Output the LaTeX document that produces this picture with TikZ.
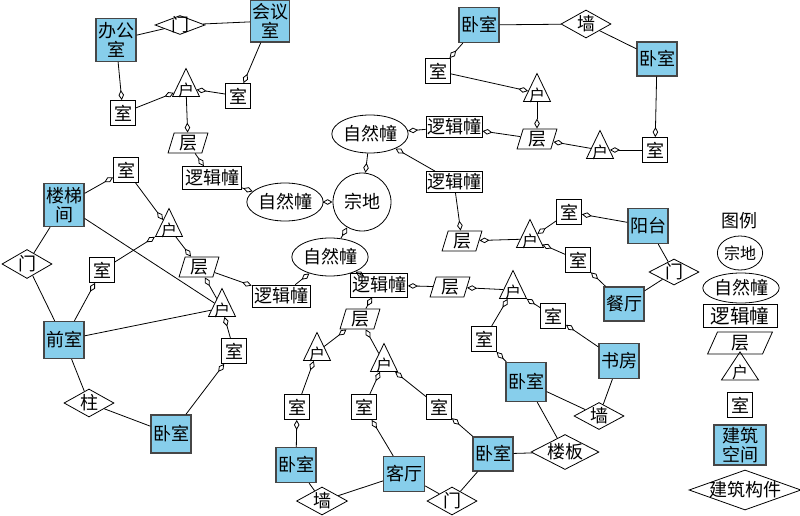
\documentclass[tikz,border=0pt]{standalone}
\usepackage{fontspec}
\setmainfont{Noto Sans CJK SC}
\usetikzlibrary{shapes.geometric,arrows.meta}
\definecolor{skyb}{RGB}{135,206,235}
\definecolor{edgeg}{RGB}{70,70,70}
\begin{document}
\begin{tikzpicture}[x=1pt,y=-1pt,
  every node/.style={font=\fontsize{18}{19.5}\selectfont, inner sep=0pt, line width=0.8pt},
  rm/.style={draw, minimum width=25pt, minimum height=25pt},
  sp/.style={draw=edgeg, line width=1.3pt, fill=skyb, minimum width=40pt, minimum height=35pt, align=center},
  comp/.style={diamond, draw, minimum width=50pt, minimum height=28pt, label={center:#1}},
  layer/.style={trapezium, trapezium left angle=76, trapezium right angle=104, trapezium stretches=true, draw, minimum width=40pt, minimum height=20pt},
  tri/.style={isosceles triangle, isosceles triangle apex angle=52, isosceles triangle stretches, shape border rotate=90, draw, minimum width=27pt, minimum height=28pt, label={[font=\fontsize{16}{16}\selectfont, yshift=-2pt]center:户}},
  nat/.style={ellipse, draw, minimum width=57pt, minimum height=38pt},
  lg/.style={rm, minimum width=57pt, minimum height=23pt},
  agg/.style={line width=0.8pt, -{Diamond[open,length=10pt,width=5.5pt,line width=0.8pt]}},
  ln/.style={line width=0.8pt}
]
\useasboundingbox (0,0) rectangle (800,516);
% ---------- top-left cluster
\node[sp, minimum height=43pt] (bgs) at (116,40) {办公\\室};
\node[comp=门, minimum height=19pt] (m1) at (180,25) {};
\node[sp, minimum width=39pt, minimum height=42pt] (hys) at (270,21) {会议\\室};
\node[rm] (s1) at (123,113) {室};
\node[tri] (h1) at (186,88) {};
\node[rm] (s2) at (238,96) {室};
\node[layer] (c1) at (188,143) {层};
\node[lg, minimum width=59pt] (l1) at (212,178) {逻辑幢};
\node[nat] (z1) at (285,202) {自然幢};
\node[circle, draw, minimum size=58pt] (zd) at (362,202) {宗地};
% ---------- top-right cluster
\node[sp] (w1) at (479,25) {卧室};
\node[comp=墙] (q1) at (586,24) {};
\node[sp, minimum height=34pt] (w2) at (657,59) {卧室};
\node[rm] (s3) at (438,71) {室};
\node[tri] (h2) at (537,93) {};
\node[nat] (z2) at (370,134) {自然幢};
\node[lg, minimum width=56pt, minimum height=21pt] (l2) at (454,127) {逻辑幢};
\node[layer] (c2) at (537,139) {层};
\node[tri] (h3) at (600,150) {};
\node[rm] (s4) at (655,150) {室};
\node[lg, minimum width=56pt, minimum height=21pt] (l3) at (454,182) {逻辑幢};
% ---------- middle-right cluster
\node[layer] (c3) at (462,241) {层};
\node[tri] (h4) at (530,239) {};
\node[rm] (s5) at (569,212) {室};
\node[rm] (s6) at (578,260) {室};
\node[sp] (yt) at (648,226) {阳台};
\node[sp, minimum height=34pt] (ct) at (624,304) {餐厅};
\node[comp=门, minimum height=26pt] (m2) at (674,272) {};
% ---------- centre cluster
\node[nat, minimum width=55pt] (z3) at (330,257) {自然幢};
\node[lg, minimum height=24pt] (l4) at (379,285) {逻辑幢};
\node[lg, minimum width=58pt, minimum height=22pt] (l5) at (281,296) {逻辑幢};
\node[layer] (c4) at (450,287) {层};
\node[tri] (h5) at (513,290) {};
\node[rm] (s7) at (484,339) {室};
\node[rm] (s8) at (553,316) {室};
\node[sp] (sf) at (619,361) {书房};
\node[sp, minimum height=39pt] (w3) at (526,382) {卧室};
\node[comp=墙, minimum height=27pt] (q2) at (599,416) {};
\node[comp=楼板, minimum width=68pt, minimum height=35pt] (lb) at (565,452) {};
\node[sp, minimum height=34pt] (w4) at (493,454) {卧室};
\node[comp=门] (m3) at (452,501) {};
\node[sp, minimum width=41pt] (kt) at (404,474) {客厅};
\node[rm] (s9) at (439,407) {室};
\node[layer] (c5) at (360,319) {层};
\node[tri] (h6) at (317,352) {};
\node[tri] (h7) at (384,363) {};
\node[rm] (s10) at (297,407) {室};
\node[rm] (s11) at (364,407) {室};
\node[sp] (w5) at (296,465) {卧室};
\node[comp=墙, minimum width=51pt] (q3) at (322,501) {};
% ---------- left cluster
\node[sp, minimum height=43pt] (ltj) at (64,205) {楼梯\\间};
\node[rm] (s12) at (126,170) {室};
\node[tri] (h8) at (169,228) {};
\node[rm] (s13) at (102,270) {室};
\node[comp=门, minimum height=29pt] (m4) at (27,264) {};
\node[layer] (c6) at (199,267) {层};
\node[tri] (h9) at (222,308) {};
\node[sp, minimum height=37pt] (qs) at (64,340) {前室};
\node[rm] (s14) at (234,351) {室};
\node[comp=柱] (zz) at (89,403) {};
\node[sp, minimum height=38pt] (w6) at (171,434) {卧室};
% ---------- legend
\node (lg0) at (739,221) {图例};
\node[ellipse, draw, minimum width=40pt, minimum height=34pt, font=\fontsize{16}{16}\selectfont] (lg1) at (740,253) {宗地};
\node[nat, minimum width=64pt, minimum height=30pt] (lg2) at (741,288) {自然幢};
\node[lg, minimum width=74pt, font=\fontsize{19.5}{19.5}\selectfont] (lg3) at (740,316) {逻辑幢};
\node[layer, minimum width=65pt, minimum height=22pt] (lg4) at (740,343) {层};
\node[tri, minimum width=37pt] (lg5) at (740,370) {};
\node[rm] (lg6) at (740,405) {室};
\node[sp, minimum width=52pt, minimum height=40pt] (lg7) at (740,445) {建筑\\空间};
\node[comp=建筑构件, minimum width=112pt, minimum height=40pt] (lg8) at (745,490) {};
% ---------- connectors: top-left
\draw[ln] (bgs) -- (m1);
\draw[ln] (m1) -- (hys);
\draw[agg] (bgs) -- (s1);
\draw[agg] (hys) -- (s2);
\draw[agg] (s1) -- (h1);
\draw[agg] (s2) -- (h1);
\draw[agg] (h1) -- (c1);
\draw[agg] (c1) -- (l1);
\draw[agg] (l1) -- (z1);
\draw[agg] (z1) -- (zd);
% top-right
\draw[ln] (w1) -- (q1);
\draw[ln] (q1) -- (w2);
\draw[agg] (w1) -- (s3);
\draw[agg] (s3) -- (h2);
\draw[agg] (h2) -- (c2);
\draw[agg] (c2) -- (l2);
\draw[agg] (l2) -- (z2);
\draw[agg] (h3) -- (c2);
\draw[agg] (s4) -- (h3);
\draw[agg] (w2) -- (s4);
\draw[agg] (z2) -- (zd);
\draw[agg] (l3) -- (z2);
% middle-right
\draw[agg] (l3) -- (c3);
\draw[agg] (h4) -- (c3);
\draw[agg] (s5) -- (h4);
\draw[agg] (s6) -- (h4);
\draw[agg] (yt) -- (s5);
\draw[agg] (ct) -- (s6);
\draw[ln] (yt) -- (m2);
\draw[ln] (m2) -- (ct);
% centre
\draw[agg] (z3) -- (zd);
\draw[agg] (l4) -- (z3);
\draw[agg] (l5) -- (z3);
\draw[agg] (c4) -- (l4);
\draw[agg] (h5) -- (c4);
\draw[agg] (s7) -- (h5);
\draw[agg] (s8) -- (h5);
\draw[agg] (sf) -- (s8);
\draw[agg] (w3) -- (s7);
\draw[ln] (sf) -- (q2);
\draw[ln] (w3) -- (q2);
\draw[ln] (w3) -- (lb);
\draw[ln] (w4) -- (lb);
\draw[ln] (w4) -- (m3);
\draw[ln] (kt) -- (m3);
\draw[agg] (w4) -- (s9);
\draw[agg] (c5) -- (l4);
\draw[agg] (h6) -- (c5);
\draw[agg] (h7) -- (c5);
\draw[agg] (s10) -- (h6);
\draw[agg] (s11) -- (h7);
\draw[agg] (s9) -- (h7);
\draw[agg] (w5) -- (s10);
\draw[agg] (kt) -- (s11);
\draw[ln] (w5) -- (q3);
\draw[ln] (q3) -- (kt);
% left
\draw[agg] (ltj) -- (s12);
\draw[agg] (s12) -- (h8);
\draw[agg] (s13) -- (h8);
\draw[agg] (h8) -- (c6);
\draw[agg] (c6) -- (l5);
\draw[agg] (h9) -- (c6);
\draw[ln] (ltj) -- (h9);
\draw[ln] (qs) -- (h9);
\draw[ln] (ltj) -- (m4);
\draw[ln] (m4) -- (qs);
\draw[agg] (qs) -- (s13);
\draw[agg] (s14) -- (h9);
\draw[agg] (w6) -- (s14);
\draw[ln] (qs) -- (zz);
\draw[ln] (zz) -- (w6);
\end{tikzpicture}
\end{document}
